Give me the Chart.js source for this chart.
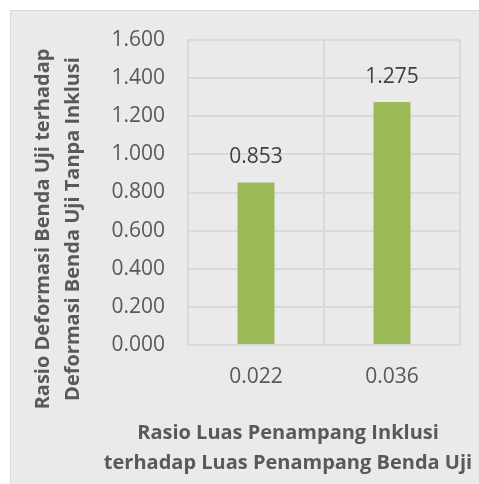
<!DOCTYPE html>
<html>
<head>
<meta charset="utf-8">
<script src="https://cdn.jsdelivr.net/npm/chart.js@4.4.1/dist/chart.umd.min.js"></script>
<style>
    html, body { margin: 0; padding: 0; background: #ffffff; }
    #frame {
        position: absolute; left: 10px; top: 10px; width: 468px; height: 473px;
        background: #EAEAEA; border-left: 1px solid #D9D9D9; border-top: 1px solid #D9D9D9;
    }
    #chart { position: absolute; left: 0; top: 0; }
</style>
</head>
<body>
<div id="frame"></div>
<canvas id="chart" width="479" height="484"></canvas>
<script>
const categories = ['0.022', '0.036'];
const ratioValues = [0.853, 1.275];
const yTitleLines = ['Rasio Deformasi Benda Uji terhadap', 'Deformasi Benda Uji Tanpa Inklusi'];
const xTitleLines = ['Rasio Luas Penampang Inklusi', 'terhadap Luas Penampang Benda Uji'];

const fontFamily = '"Open Sans", "Noto Sans", sans-serif';
const gridColor = '#D9D9D9';

// value labels above each bar
const barLabels = {
    id: 'barLabels',
    afterDatasetsDraw(chart) {
        const ctx = chart.ctx;
        const meta = chart.getDatasetMeta(0);
        ctx.save();
        ctx.font = `21px ${fontFamily}`;
        ctx.fillStyle = '#404040';
        ctx.textAlign = 'center';
        ctx.textBaseline = 'middle';
        meta.data.forEach((bar, i) => {
            ctx.fillText(ratioValues[i].toFixed(3), bar.x, bar.y - 25);
        });
        ctx.restore();
    }
};

// two-line axis titles, placed like the Excel original
const axisTitles = {
    id: 'axisTitles',
    afterDraw(chart) {
        const ctx = chart.ctx;
        ctx.save();
        ctx.font = `bold 20px ${fontFamily}`;
        ctx.fillStyle = '#595959';
        ctx.textAlign = 'center';
        ctx.textBaseline = 'middle';
        ctx.save();
        ctx.translate(43, 229);
        ctx.rotate(-Math.PI / 2);
        yTitleLines.forEach((line, i) => ctx.fillText(line, 0, i * 30));
        ctx.restore();
        xTitleLines.forEach((line, i) => ctx.fillText(line, 288, 433 + i * 30));
        ctx.restore();
    }
};

new Chart(document.getElementById('chart'), {
    type: 'bar',
    data: {
        labels: categories,
        datasets: [{
            data: ratioValues,
            backgroundColor: '#9BBB59',
            borderWidth: 0,
            categoryPercentage: 1,
            barPercentage: 0.272
        }]
    },
    options: {
        responsive: false,
        animation: false,
        layout: {
            padding: { top: 40, right: 19, bottom: 0, left: 0 }
        },
        scales: {
            x: {
                grid: { color: gridColor, lineWidth: 2, offset: true, drawTicks: false },
                border: { color: gridColor, width: 2 },
                ticks: {
                    color: '#595959',
                    font: { family: fontFamily, size: 21 },
                    padding: 19
                },
                afterFit(scale) { scale.height = 139; }
            },
            y: {
                min: 0,
                max: 1.6,
                grid: { color: gridColor, lineWidth: 2, drawTicks: false },
                border: { color: gridColor, width: 2 },
                ticks: {
                    stepSize: 0.2,
                    color: '#595959',
                    font: { family: fontFamily, size: 21 },
                    padding: 23,
                    callback: v => v.toFixed(3)
                },
                afterFit(scale) { scale.width = 188; }
            }
        },
        plugins: {
            legend: { display: false },
            tooltip: { enabled: false }
        }
    },
    plugins: [barLabels, axisTitles]
});
</script>
</body>
</html>
